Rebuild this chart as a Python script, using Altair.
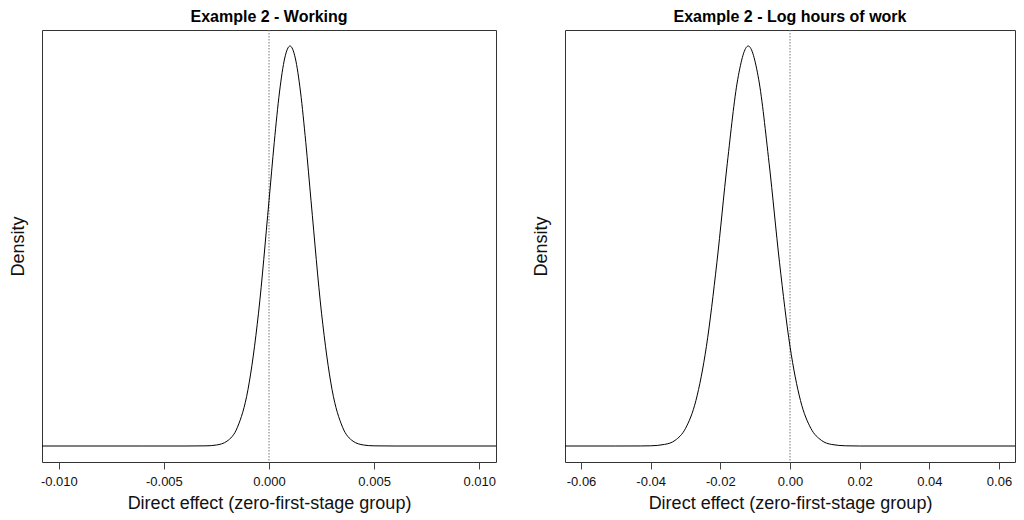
import altair as alt
import pandas as pd

# Left panel: Example 2 - Working (normalized density heights)
work_x = [-0.0108, -0.006, -0.004, -0.003, -0.0025, -0.002, -0.0015, -0.001, -0.0005,
          0.0, 0.00025, 0.0005, 0.00075, 0.001, 0.00125, 0.0015, 0.00175, 0.002,
          0.0025, 0.003, 0.0035, 0.004, 0.0045, 0.005, 0.006, 0.0108]
work_y = [0.0, 0.0, 0.0, 0.0004, 0.0025, 0.012, 0.047, 0.141, 0.332,
          0.613, 0.759, 0.885, 0.970, 1.0, 0.970, 0.885, 0.759, 0.613,
          0.332, 0.141, 0.047, 0.012, 0.0025, 0.0004, 0.0, 0.0]

# Right panel: Example 2 - Log hours of work
hours_x = [-0.0646, -0.05, -0.043, -0.04, -0.036, -0.033, -0.03, -0.027, -0.024, -0.021,
           -0.018, -0.015, -0.012, -0.009, -0.006, -0.003, 0.0, 0.003, 0.006,
           0.009, 0.012, 0.016, 0.02, 0.0646]
hours_y = [0.0, 0.0, 0.0001, 0.0005, 0.004, 0.014, 0.044, 0.114, 0.249, 0.458,
           0.707, 0.917, 1.0, 0.917, 0.707, 0.458, 0.249, 0.114, 0.044,
           0.0142, 0.0038, 0.0005, 0.0, 0.0]

work_ticks = [-0.010, -0.005, 0.0, 0.005, 0.010]
hours_ticks = [-0.06, -0.04, -0.02, 0.0, 0.02, 0.04, 0.06]

FONT = "Liberation Sans"
YDOM = [-0.04, 1.04]


def panel(xs, ys, ticks, xdom, fmt, title, width):
    df = pd.DataFrame({"x": xs, "y": ys})
    xenc = alt.X(
        "x:Q",
        scale=alt.Scale(domain=xdom, nice=False, zero=False),
        axis=alt.Axis(
            values=ticks,
            labelExpr=f"(datum.value < 0 ? '-' : '') + format(abs(datum.value), '{fmt}')",
            grid=False, domain=False, tickSize=7, tickColor="#444",
            labelFont=FONT, labelFontSize=13, labelColor="#111", labelPadding=6,
            title="Direct effect (zero-first-stage group)",
            titleFont=FONT, titleFontSize=18, titleFontWeight="normal",
            titleColor="#111", titlePadding=6,
        ),
    )
    yenc = alt.Y(
        "y:Q",
        scale=alt.Scale(domain=YDOM, nice=False, zero=False),
        axis=alt.Axis(
            labels=False, ticks=False, grid=False, domain=False,
            title="Density", titleFont=FONT, titleFontSize=18,
            titleFontWeight="normal", titleColor="#111", titlePadding=15,
        ),
    )
    line = alt.Chart(df).mark_line(
        color="black", strokeWidth=1, interpolate="monotone", clip=True
    ).encode(x=xenc, y=yenc)
    rule = alt.Chart(pd.DataFrame({"x": [0.0]})).mark_rule(
        color="#777", strokeWidth=1, strokeDash=[1.5, 1.5]
    ).encode(x="x:Q")
    return alt.layer(rule, line).properties(
        width=width, height=432,
        title=alt.TitleParams(
            title, font=FONT, fontSize=16, fontWeight="bold", color="black",
            anchor="middle", offset=5,
        ),
    )


left = panel(work_x, work_y, work_ticks, [-0.0108, 0.0108], ".3f",
             "Example 2 - Working", 454)
right = panel(hours_x, hours_y, hours_ticks, [-0.0646, 0.0646], ".2f",
              "Example 2 - Log hours of work", 450)

chart = alt.hconcat(left, right, spacing=34).properties(
    padding=0, background="white"
).configure_view(stroke="#333", strokeWidth=1)

chart.save("out.html", embed_options={"renderer": "svg", "actions": False})
